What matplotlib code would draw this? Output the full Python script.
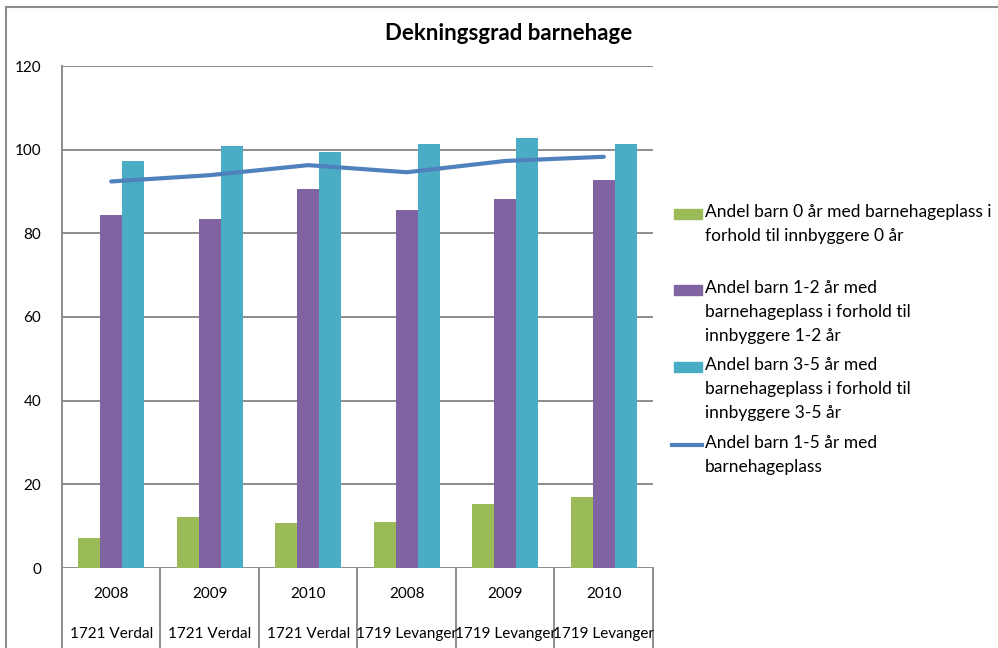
import matplotlib.pyplot as plt
from matplotlib.patches import Rectangle
from matplotlib.lines import Line2D
import numpy as np

plt.rcParams['font.family'] = ['Lato', 'DejaVu Sans']

# data
years = ['2008', '2009', '2010', '2008', '2009', '2010']
kommuner = ['1721 Verdal', '1721 Verdal', '1721 Verdal',
            '1719 Levanger', '1719 Levanger', '1719 Levanger']
barn_0 = [7.1, 12.2, 10.8, 11.0, 15.4, 17.0]
barn_1_2 = [84.3, 83.4, 90.6, 85.5, 88.2, 92.7]
barn_3_5 = [97.3, 100.9, 99.4, 101.3, 102.7, 101.3]
barn_1_5 = [92.4, 93.9, 96.3, 94.6, 97.3, 98.3]

labels = [
    "Andel barn 0 år med barnehageplass i\nforhold til innbyggere 0 år",
    "Andel barn 1-2 år med\nbarnehageplass i forhold til\ninnbyggere 1-2 år",
    "Andel barn 3-5 år med\nbarnehageplass i forhold til\ninnbyggere 3-5 år",
    "Andel barn 1-5 år med\nbarnehageplass",
]
colors = ['#9BBB59', '#8064A2', '#4BACC6', '#4F81BD']
grid_col = '#8C8C8C'

W, H = 998, 648
fig = plt.figure(figsize=(W / 100, H / 100), dpi=100)

def fx(px):
    return px / W

def fy(py):
    return 1 - py / H

# plot area
left, right, top, bottom = 62, 653, 66, 568
ax = fig.add_axes([fx(left), fy(bottom), fx(right - left), (bottom - top) / H])

x = np.arange(len(years))
w = 0.222
ax.bar(x - w, barn_0, w, color=colors[0], zorder=3)
ax.bar(x, barn_1_2, w, color=colors[1], zorder=3)
ax.bar(x + w, barn_3_5, w, color=colors[2], zorder=3)
ax.plot(x, barn_1_5, color=colors[3], lw=3, zorder=4, solid_capstyle='round')

ax.set_xlim(-0.5, len(years) - 0.5)
ax.set_ylim(0, 120)
ax.set_yticks(range(0, 121, 20))
ax.yaxis.grid(True, color=grid_col, lw=1.4)
ax.set_axisbelow(True)
ax.tick_params(axis='y', length=0, pad=15, labelsize=11)
ax.set_xticks([])
for s in ['top', 'right', 'bottom']:
    ax.spines[s].set_visible(False)
ax.spines['left'].set_color(grid_col)
ax.spines['left'].set_linewidth(1.4)

# two-level category axis below the plot
depth = (H - bottom) / (bottom - top)
trans = ax.get_xaxis_transform()
for i in range(len(years) + 1):
    ax.plot([i - 0.5, i - 0.5], [0, -depth], color=grid_col, lw=1.4,
            transform=trans, clip_on=False)
for i, (yr, kom) in enumerate(zip(years, kommuner)):
    ax.text(i, -(594 - bottom) / (bottom - top), yr, transform=trans,
            ha='center', va='center', fontsize=11)
    ax.text(i, -(634 - bottom) / (bottom - top), kom, transform=trans,
            ha='center', va='center', fontsize=11)

fig.text(fx(509), fy(33), 'Dekningsgrad barnehage', ha='center', va='center',
         fontsize=16, fontweight='bold')

# legend
rows = [214, 290, 367, 445]
for i, (lab, c, r) in enumerate(zip(labels, colors, rows)):
    if i < 3:
        fig.add_artist(Rectangle((fx(674), fy(r + 5)), fx(28), 10 / H,
                                 color=c, transform=fig.transFigure))
    else:
        fig.add_artist(Line2D([fx(672), fx(702)], [fy(r), fy(r)], color=c, lw=3,
                              transform=fig.transFigure))
    fig.text(fx(705), fy(r - 10), lab, ha='left', va='top', fontsize=12.5,
             linespacing=1.6)

# outer chart frame
fig.add_artist(Line2D([fx(6), fx(6)], [fy(7), 0], color='#8C8C8C', lw=1.5,
                      transform=fig.transFigure))
fig.add_artist(Line2D([fx(6), 1], [fy(7), fy(7)], color='#8C8C8C', lw=1.5,
                      transform=fig.transFigure))

fig.savefig('out.png', dpi=100)
